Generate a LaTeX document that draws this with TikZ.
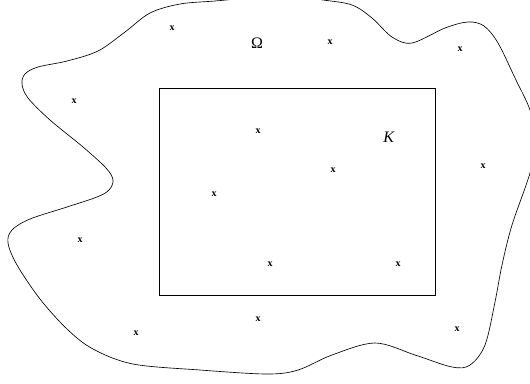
\documentclass[tikz,border=0pt]{standalone}
\usepackage{fontspec}
\setmainfont{Liberation Serif}
\begin{document}
\begin{tikzpicture}[x=1pt,y=-1pt,
  pt/.style={font=\bfseries\fontsize{10}{10}\selectfont, inner sep=0pt},
  lbl/.style={font=\fontsize{16}{16}\selectfont, inner sep=0pt}]
\useasboundingbox (0,0) rectangle (530,383);
\clip (0,0) rectangle (530,383);
\draw[line width=0.65pt] plot[smooth cycle, tension=0.55] coordinates {
 (180,4) (215,1) (250,-2) (290,-4) (323,0) (352,5) (372,18) (392,37) (412,43) (445,28)
 (468,22) (484,26) (498,43) (515,78) (530,110) (536,140) (530,173)
 (512,225) (502,265) (495,302) (485,345) (470,365) (452,367)
 (415,355) (375,343) (332,355) (298,370) (267,374) (200,370) (133,364)
 (93,349) (67,329) (40,299) (17,265) (8,243) (12,230) (30,219) (67,207)
 (97,197) (109,190) (113,180) (106,168) (83,147) (50,120) (28,98) (22,84)
 (25,74) (38,67) (67,61) (98,51) (125,32) (150,13)};
\node[draw, line width=0.65pt, minimum width=276pt, minimum height=207pt,
  anchor=north west, inner sep=0pt] (K) at (159,88) {};
\node[lbl] (omega) at (257,43) {Ω};
\node[lbl] (klbl) at (389,137) {\textit{K}};
\foreach \i/\p in {1/{(172,28)},2/{(74,101)},3/{(258,131)},4/{(330,42)},5/{(460,49)},
  6/{(333,170)},7/{(483,166)},8/{(214,194)},9/{(80,240)},10/{(136,333)},
  11/{(258,319)},12/{(270,264)},13/{(398,264)},14/{(457,329)}}
  \node[pt] (x\i) at \p {x};
\end{tikzpicture}
\end{document}
